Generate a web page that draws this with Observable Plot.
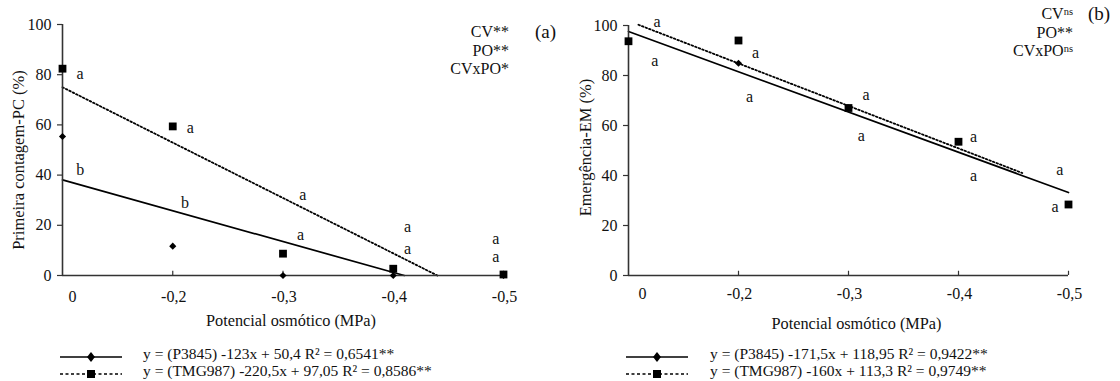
<!DOCTYPE html>
<html><head><meta charset="utf-8">
<script src="https://cdn.jsdelivr.net/npm/d3@7"></script>
<script src="https://cdn.jsdelivr.net/npm/@observablehq/plot@0.6"></script>
<style>
body{margin:0;background:#fff;font-family:"Liberation Serif","Times New Roman","DejaVu Serif",serif;color:#111;}
#wrap{position:relative;width:1120px;height:381px;overflow:hidden;}
.panel{position:absolute;top:0;width:560px;height:381px;}
.abs{position:absolute;white-space:nowrap;}
.ann{font-size:16px;line-height:18.5px;text-align:right;}
.ann sup{font-size:10.5px;vertical-align:4px;line-height:0;}
.tag{font-size:19px;}
.leg{font-size:15.5px;line-height:17px;}
.leg svg{vertical-align:middle;}
</style></head><body>
<div id="wrap">
  <div class="panel" id="pa" style="left:0"></div>
  <div class="panel" id="pb" style="left:560px"></div>
</div>
<script>
// ---------- shared ----------
const xVals = [0.1, 0.2, 0.3, 0.4, 0.5];
const xTickLabels = ["0", "-0,2", "-0,3", "-0,4", "-0,5"];
const yTicks = [0, 20, 40, 60, 80, 100];
const xTitle = "Potencial osmótico (MPa)";
const seriesNames = ["P3845", "TMG987"];

// ---------- panel (a): Primeira contagem ----------
const pcTitle = "Primeira contagem-PC (%)";
const pcP3845 = [55.4, 11.7, 0, 0, 0];
const pcTMG987 = [82.4, 59.4, 8.7, 2.7, 0.4];
const pcFitP3845X = [0.1, 0.41];
const pcFitP3845Y = [38.1, 0];
const pcFitTMG987X = [0.1, 0.44];
const pcFitTMG987Y = [75.0, 0];
const pcLetterX = [0.116, 0.116, 0.216, 0.211, 0.318, 0.316, 0.413, 0.413, 0.493, 0.493];
const pcLetterY = [80.2, 41.9, 59.0, 29.0, 32.3, 16.3, 19.3, 10.6, 14.4, 7.3];
const pcLetters = ["a", "b", "a", "b", "a", "a", "a", "a", "a", "a"];
const pcEq = ["y = (P3845) -123x + 50,4 R² = 0,6541**", "y = (TMG987) -220,5x + 97,05 R² = 0,8586**"];

// ---------- panel (b): Emergência ----------
const emTitle = "Emergência-EM (%)";
const emP3845 = [93.7, 84.9, 67.0, 53.5, 28.4];
const emTMG987 = [93.7, 94.0, 67.0, 53.5, 28.4];
const emFitP3845X = [0.1, 0.5];
const emFitP3845Y = [97.6, 33.2];
const emFitTMG987X = [0.109, 0.458];
const emFitTMG987Y = [100.3, 41.0];
const emLetterX = [0.126, 0.124, 0.2155, 0.210, 0.316, 0.3116, 0.4136, 0.4136, 0.492, 0.4877];
const emLetterY = [101.3, 86.0, 89.0, 71.3, 72.3, 56.0, 55.3, 40.0, 42.3, 27.3];
const emLetters = ["a", "a", "a", "a", "a", "a", "a", "a", "a", "a"];
const emEq = ["y = (P3845) -171,5x + 118,95 R² = 0,9422**", "y = (TMG987) -160x + 113,3 R² = 0,9749**"];

const FONT = "'Liberation Serif', 'Times New Roman', 'DejaVu Serif', serif";
const AX = "#333";

function toPts(xs, ys) { return xs.map((x, i) => ({x, y: ys[i]})); }

function panel(cfg) {
  const dia = toPts(xVals, cfg.p3845);
  const sq = toPts(xVals, cfg.tmg);
  const letters = cfg.lx.map((x, i) => ({x, y: cfg.ly[i], t: cfg.lt[i]}));
  const ticks = xVals.map((x, i) => ({x, t: xTickLabels[i]}));
  return Plot.plot({
    width: 560, height: 381,
    marginLeft: cfg.ml, marginRight: cfg.mr, marginTop: cfg.mt, marginBottom: 106,
    style: {fontFamily: FONT, fontSize: "16px", color: "#111", background: "transparent", overflow: "visible"},
    x: {domain: [0.1, 0.5], axis: null},
    y: {domain: [0, 100], ticks: yTicks, axis: null},
    marks: [
      Plot.axisY(yTicks, {tickSize: 5, tickPadding: 6, stroke: AX, fontSize: 16, fontFamily: FONT, label: null, strokeWidth: 1.2}),
      Plot.ruleX(xVals.slice(1), {y1: 0, y2: 1.7, stroke: AX, strokeWidth: 1.2}),
      Plot.text(ticks.slice(0, 1), {x: "x", text: "t", frameAnchor: "bottom", lineAnchor: "middle", dy: cfg.tickDy, dx: cfg.zeroDx, fontSize: 16, fontFamily: FONT}),
      Plot.text(ticks.slice(1), {x: "x", text: "t", frameAnchor: "bottom", lineAnchor: "middle", dy: cfg.tickDy, dx: 1, fontSize: 16, fontFamily: FONT}),
      Plot.text([xTitle], {frameAnchor: "bottom", lineAnchor: "middle", textAnchor: "middle", dy: cfg.titleDy, dx: cfg.titleDx, fontSize: 16.3, fontFamily: FONT}),
      Plot.text([cfg.yTitle], {frameAnchor: "left", rotate: -90, textAnchor: "middle", lineAnchor: "middle", dx: cfg.ytDx, dy: cfg.ytDy, fontSize: 16.5, fontFamily: FONT}),
      Plot.line(toPts(cfg.fpX, cfg.fpY), {x: "x", y: "y", stroke: "#000", strokeWidth: 1.7}),
      Plot.line(toPts(cfg.ftX, cfg.ftY), {x: "x", y: "y", stroke: "#000", strokeWidth: 1.8, strokeDasharray: "1.6,2.2"}),
      Plot.ruleY([0], {stroke: AX, strokeWidth: 1.6}),
      Plot.ruleX([0.1], {stroke: AX, strokeWidth: 1.6}),
      Plot.dot(dia, {x: "x", y: "y", symbol: "diamond2", r: 3.2, fill: "#000", stroke: "none"}),
      Plot.dot(sq, {x: "x", y: "y", symbol: "square", r: 4.4, fill: "#000", stroke: "none"}),
      Plot.text(letters, {x: "x", y: "y", text: "t", fontSize: 16, fontFamily: FONT, fill: "#111"})
    ]
  });
}

document.getElementById("pa").appendChild(panel({
  ml: 62, mr: 57, mt: 24, tickDy: 21, zeroDx: 10, titleDy: 45, titleDx: 8, ytDx: -43.5, ytDy: 10,
  yTitle: pcTitle, p3845: pcP3845, tmg: pcTMG987,
  fpX: pcFitP3845X, fpY: pcFitP3845Y, ftX: pcFitTMG987X, ftY: pcFitTMG987Y,
  lx: pcLetterX, ly: pcLetterY, lt: pcLetters
}));
document.getElementById("pb").appendChild(panel({
  ml: 68, mr: 52, mt: 25, tickDy: 18, zeroDx: 14, titleDy: 48, titleDx: 8, ytDx: -43, ytDy: -3,
  yTitle: emTitle, p3845: emP3845, tmg: emTMG987,
  fpX: emFitP3845X, fpY: emFitP3845Y, ftX: emFitTMG987X, ftY: emFitTMG987Y,
  lx: emLetterX, ly: emLetterY, lt: emLetters
}));

// ---------- annotations & legends (HTML) ----------
const wrap = document.getElementById("wrap");
function addHTML(html) { wrap.insertAdjacentHTML("beforeend", html); }
const statsA = ["CV**", "PO**", "CVxPO*"];
const statsB = ["CV<sup>ns</sup>", "PO**", "CVxPO<sup>ns</sup>"];
addHTML(`<div class="abs ann" style="right:${1120-509}px;top:23px">${statsA.join("<br>")}</div>`);
addHTML(`<div class="abs tag" style="left:535px;top:21px">(a)</div>`);
addHTML(`<div class="abs ann" style="right:${1120-1073}px;top:5px">${statsB.join("<br>")}</div>`);
addHTML(`<div class="abs tag" style="left:1088px;top:3px">(b)</div>`);

function sample(kind) {
  const dash = kind === 1 ? 'stroke-dasharray="3,2.5"' : '';
  const sym = kind === 0
    ? '<path d="M31,1 L35,6 L31,11 L27,6 Z" fill="#000"/>'
    : '<rect x="27" y="2" width="8" height="8" fill="#000"/>';
  return `<svg width="62" height="12"><line x1="0" x2="62" y1="6" y2="6" stroke="#000" stroke-width="1.5" ${dash}/>${sym}</svg>`;
}
function legend(left, textLeft, eqs) {
  eqs.forEach((eq, i) => {
    const top = 347 + i * 17;
    addHTML(`<div class="abs leg" style="left:${left}px;top:${top}px">${sample(i)}</div>`);
    addHTML(`<div class="abs leg" style="left:${textLeft}px;top:${top-2.5}px">${eq}</div>`);
  });
}
legend(60, 143, pcEq);
legend(626, 710, emEq);
</script>
</body></html>
